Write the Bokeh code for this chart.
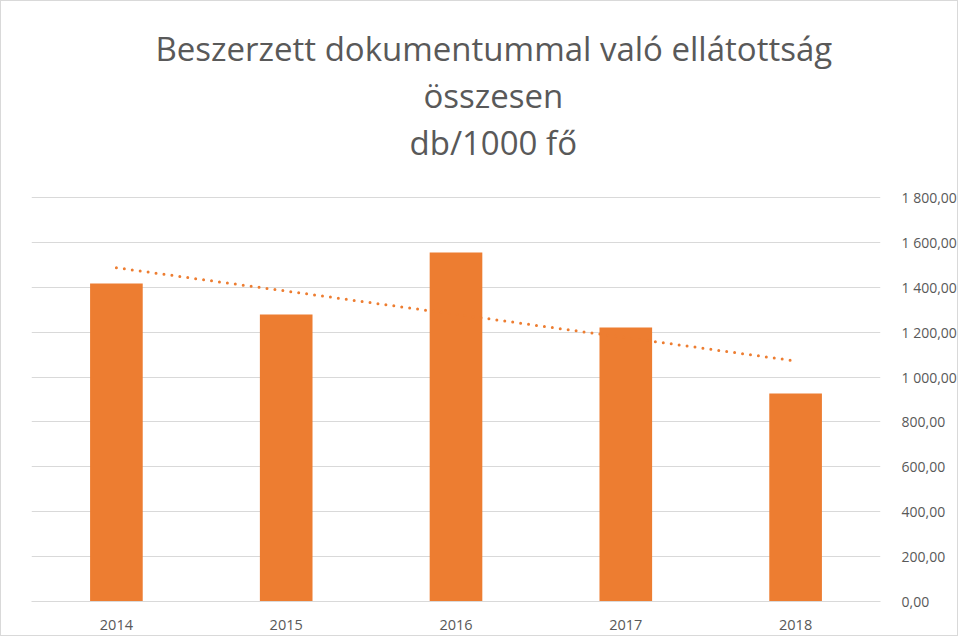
import numpy as np
from bokeh.plotting import figure
from bokeh.models import LinearAxis, FixedTicker, Range1d, ColumnDataSource, Title
from bokeh.embed import file_html
from bokeh.resources import INLINE

years = ["2014", "2015", "2016", "2017", "2018"]
values = [1417, 1279, 1555, 1221, 927]
y_ticks = [0, 200, 400, 600, 800, 1000, 1200, 1400, 1600, 1800]
title_lines = ["Beszerzett dokumentummal való ellátottság", "összesen", "db/1000 fő"]

def fmt(v):
    s = f"{v:,.2f}"
    return s.replace(",", " ").replace(".", ",")

tick_labels = {t: fmt(t) for t in y_ticks}

# linear trend line (as Excel's trendline)
xi = np.arange(1, len(values) + 1)
slope, intercept = np.polyfit(xi, values, 1)
trend = list(slope * xi + intercept)

src = ColumnDataSource(dict(x=years, top=values, trend=trend))

GRAY = "#595959"
ORANGE = "#ED7D31"
FONT = "Open Sans"

W, H = 958, 636
p = figure(x_range=years, width=W, height=H, output_backend="svg",
           toolbar_location=None, y_range=Range1d(0, 1805),
           min_border_left=30, min_border_right=78, min_border_bottom=36,
           min_border_top=195, y_axis_location=None, title_location=None)
p.styles = {"border": "1px solid #d9d9d9"}

# spacer between plot area and title
p.add_layout(Title(text=" ", text_font_size="1px", standoff=29), "above")

# title lines: added bottom line first (stacked upward)
offsets = [124, 392, 378]
for i in [2, 1, 0]:
    t = Title(text=title_lines[i], text_font=FONT, text_font_size="33px",
              text_font_style="normal", text_color=GRAY, align="left",
              offset=offsets[i], standoff=0)
    p.add_layout(t, "above")

p.vbar(x="x", top="top", width=0.31, source=src, color=ORANGE, line_color=None)
p.line(x="x", y="trend", source=src, line_color=ORANGE, line_width=3,
       line_dash="0 8", line_cap="round")

yax = LinearAxis(ticker=FixedTicker(ticks=y_ticks))
yax.major_label_overrides = tick_labels
yax.axis_line_color = None
yax.major_tick_line_color = None
yax.minor_tick_line_color = None
yax.major_label_text_font = FONT
yax.major_label_text_font_size = "14px"
yax.major_label_text_color = GRAY
yax.major_label_standoff = 15
p.add_layout(yax, "right")

p.ygrid.ticker = FixedTicker(ticks=y_ticks)
p.ygrid.grid_line_color = "#d9d9d9"
p.xgrid.grid_line_color = None

p.xaxis.axis_line_color = "#d9d9d9"
p.xaxis.major_tick_line_color = None
p.xaxis.minor_tick_line_color = None
p.xaxis.major_label_text_font = FONT
p.xaxis.major_label_text_font_size = "14.5px"
p.xaxis.major_label_text_color = GRAY
p.xaxis.major_label_standoff = 12
p.x_range.range_padding = 0

p.outline_line_color = None

open("out.html", "w").write(file_html(p, INLINE))
